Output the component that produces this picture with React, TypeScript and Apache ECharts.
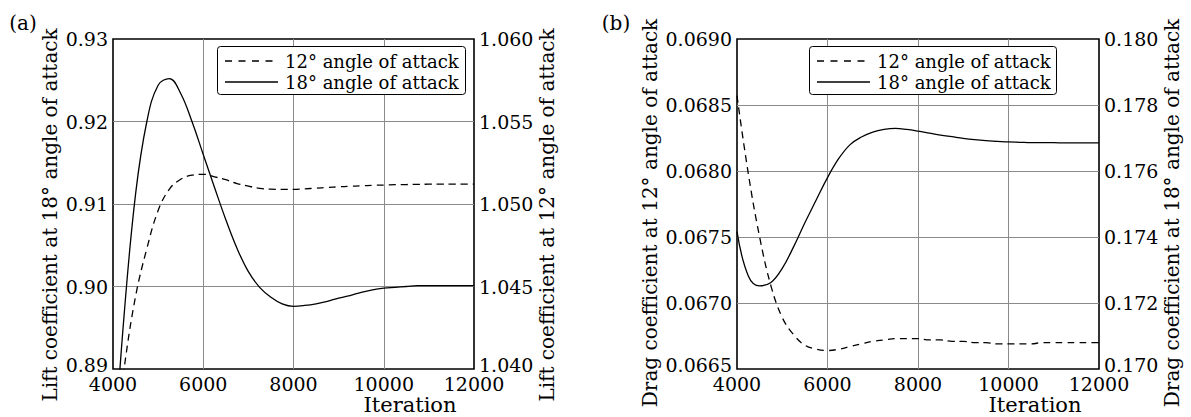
import React, { useEffect, useRef } from "react";
import * as echarts from "echarts";

// ---------- data ----------
const iterations = [4000, 4250, 4500, 4750, 5000, 5250, 5500, 5750, 6000, 6250, 6500, 6750, 7000, 7250, 7500, 7750, 8000, 8250, 8500, 8750, 9000, 9250, 9500, 9750, 10000, 10250, 10500, 10750, 11000, 11250, 11500, 11750, 12000];

// Panel (a): lift coefficient
const lift12 = [1.0345, 1.0401, 1.0444, 1.0473, 1.0496, 1.0509, 1.0515, 1.05175, 1.0518, 1.05165, 1.05147, 1.05124, 1.05108, 1.05095, 1.0509, 1.05089, 1.05089, 1.05092, 1.05096, 1.051, 1.05104, 1.05107, 1.0511, 1.05113, 1.05115, 1.05117, 1.05118, 1.05119, 1.0512, 1.0512, 1.0512, 1.0512, 1.0512];
const lift18 = [0.878, 0.8968, 0.9112, 0.92, 0.9244, 0.9252, 0.9234, 0.92, 0.916, 0.912, 0.9081, 0.9046, 0.9018, 0.8999, 0.8987, 0.8979, 0.8976, 0.8977, 0.8979, 0.8982, 0.8986, 0.8989, 0.8993, 0.8996, 0.8998, 0.8999, 0.9, 0.9001, 0.9001, 0.9001, 0.9001, 0.9001, 0.9001];

// Panel (b): drag coefficient
const drag12 = [0.06857, 0.06798, 0.0675, 0.06713, 0.06689, 0.06676, 0.06668, 0.06665, 0.06664, 0.06665, 0.06667, 0.06669, 0.06671, 0.06672, 0.06673, 0.06673, 0.06673, 0.06672, 0.06672, 0.06671, 0.06671, 0.0667, 0.0667, 0.06669, 0.06669, 0.06669, 0.06669, 0.0667, 0.0667, 0.0667, 0.0667, 0.0667, 0.0667];
const drag18 = [0.17416, 0.17282, 0.17252, 0.17262, 0.17305, 0.1737, 0.17443, 0.17512, 0.1758, 0.17638, 0.1768, 0.17703, 0.17718, 0.17726, 0.17729, 0.17726, 0.17721, 0.17715, 0.17709, 0.17704, 0.17699, 0.17695, 0.17692, 0.1769, 0.17688, 0.17687, 0.17686, 0.17686, 0.17686, 0.17685, 0.17685, 0.17685, 0.17685];

const NAME12 = "12° angle of attack";
const NAME18 = "18° angle of attack";

const FONT = "DejaVu Serif";

const zip = (xs: number[], ys: number[]) => xs.map((x, i) => [x, ys[i]]);

export default function App() {
  const ref = useRef<HTMLDivElement>(null);
  useEffect(() => {
    document.body.style.margin = "0";
    const chart = echarts.init(ref.current!, null, { renderer: "svg" });

    const gridLine = { show: true, showMinLine: false, showMaxLine: false, lineStyle: { color: "#8a8a8a", width: 1 } };

    const xAxisBase = (gridIndex: number) => ({
      type: "value",
      gridIndex,
      min: 4000,
      max: 12000,
      interval: 2000,
      axisLine: { show: false },
      axisTick: { show: false },
      axisLabel: { fontFamily: FONT, fontSize: 19, lineHeight: 20, color: "#000", margin: 5, formatter: (v: number) => String(v) },
      splitLine: gridLine,
    });

    const yAxisBase = (gridIndex: number, position: string, min: number, max: number, interval: number, digits: number, grid: boolean) => ({
      type: "value",
      gridIndex,
      position,
      min,
      max,
      interval,
      axisLine: { show: false },
      axisTick: { show: false },
      axisLabel: {
        fontFamily: FONT,
        fontSize: 19,
        color: "#000",
        margin: 5,
        formatter: (v: number) => (Math.abs(v - min) < interval / 100 ? `{low|${v.toFixed(digits)}}` : v.toFixed(digits)),
        rich: { low: { fontFamily: FONT, fontSize: 19, lineHeight: 16, color: "#000", padding: [0, 0, 8, 0] } },
      },
      splitLine: grid ? gridLine : { show: false },
    });

    const lineSeries = (name: string, xi: number, yi: number, data: number[][], dashed: boolean) => ({
      type: "line",
      name,
      xAxisIndex: xi,
      yAxisIndex: yi,
      data,
      symbol: "none",
      showSymbol: false,
      smooth: 0.4,
      lineStyle: { color: "#000", width: 1.3, type: dashed ? [7, 5] : "solid" },
      itemStyle: { color: "#000" },
      emphasis: { disabled: true },
    });

    const txt = (text: string, x: number, y: number, align: string, size: number, rotation = 0) => ({
      type: "text",
      x,
      y,
      rotation,
      z: 101,
      style: { text, x: 0, y: 0, align, verticalAlign: "middle", fontFamily: FONT, fontSize: size, lineHeight: 20, fill: "#000" },
    });

    const legendBox = (left: number, right: number) => [
      {
        type: "rect",
        z: 100,
        shape: { x: left + 0.5, y: 46.5, width: right - left, height: 48, r: 3 },
        style: { fill: "#fff", stroke: "#000", lineWidth: 1 },
      },
      {
        type: "line",
        z: 101,
        shape: { x1: left + 8, y1: 61, x2: left + 61, y2: 61 },
        style: { stroke: "#000", lineWidth: 1.3, lineDash: [7, 6.5] },
      },
      {
        type: "line",
        z: 101,
        shape: { x1: left + 8, y1: 82, x2: left + 61, y2: 82 },
        style: { stroke: "#000", lineWidth: 1.3 },
      },
      txt(NAME12, left + 68, 61, "left", 18),
      txt(NAME18, left + 68, 82, "left", 18),
    ];

    chart.setOption({
      animation: false,
      grid: [
        { left: 113, top: 39, width: 361, height: 330, show: true, borderColor: "#000", borderWidth: 1.6, backgroundColor: "transparent" },
        { left: 737, top: 39, width: 362, height: 330, show: true, borderColor: "#000", borderWidth: 1.6, backgroundColor: "transparent" },
      ],
      xAxis: [xAxisBase(0), xAxisBase(1)],
      yAxis: [
        yAxisBase(0, "left", 0.89, 0.93, 0.01, 2, true),
        yAxisBase(0, "right", 1.04, 1.06, 0.005, 3, false),
        yAxisBase(1, "left", 0.0665, 0.069, 0.0005, 4, true),
        yAxisBase(1, "right", 0.17, 0.18, 0.002, 3, false),
      ],
      series: [
        lineSeries(NAME12, 0, 1, zip(iterations, lift12), true),
        lineSeries(NAME18, 0, 0, zip(iterations, lift18), false),
        lineSeries(NAME12, 1, 2, zip(iterations, drag12), true),
        lineSeries(NAME18, 1, 3, zip(iterations, drag18), false),
      ],
      graphic: [
        ...legendBox(217, 465),
        ...legendBox(809, 1056),
        txt("(a)", 23, 23, "center", 20),
        txt("(b)", 616, 23, "center", 20),
        txt("Lift coefficient at 18° angle of attack", 50, 215, "center", 20, Math.PI / 2),
        txt("Lift coefficient at 12° angle of attack", 547, 215, "center", 20, Math.PI / 2),
        txt("Drag coefficient at 12° angle of attack", 650, 213, "center", 20, Math.PI / 2),
        txt("Drag coefficient at 18° angle of attack", 1172, 213, "center", 20, Math.PI / 2),
        txt("Iteration", 410, 405, "center", 21),
        txt("Iteration", 1035, 405, "center", 21),
      ],
    });
    return () => chart.dispose();
  }, []);
  return <div ref={ref} style={{ width: 1191, height: 417 }} />;
}
